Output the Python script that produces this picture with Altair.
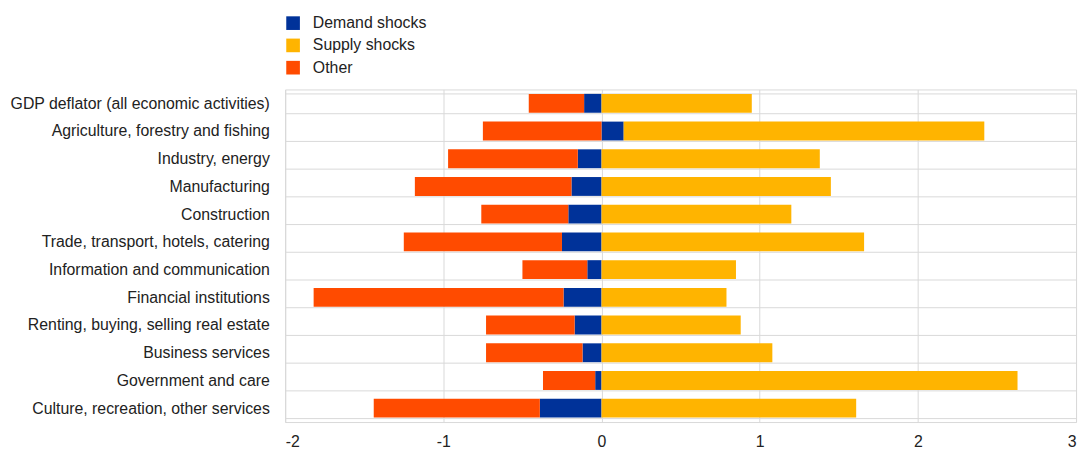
import altair as alt
import pandas as pd

categories = [
    "GDP deflator (all economic activities)",
    "Agriculture, forestry and fishing",
    "Industry, energy",
    "Manufacturing",
    "Construction",
    "Trade, transport, hotels, catering",
    "Information and communication",
    "Financial institutions",
    "Renting, buying, selling real estate",
    "Business services",
    "Government and care",
    "Culture, recreation, other services",
]
demand = [-0.11, 0.14, -0.15, -0.19, -0.21, -0.25, -0.09, -0.24, -0.17, -0.12, -0.04, -0.39]
supply = [0.95, 2.28, 1.38, 1.45, 1.20, 1.66, 0.85, 0.79, 0.88, 1.08, 2.63, 1.61]
other = [-0.35, -0.75, -0.82, -0.99, -0.55, -1.00, -0.41, -1.58, -0.56, -0.61, -0.33, -1.05]

series = ["Demand shocks", "Supply shocks", "Other"]
colors = ["#003299", "#ffb400", "#ff4b00"]
x_ticks = [-2, -1, 0, 1, 2, 3]

rows = []
for i, c in enumerate(categories):
    for k, (name, vals) in enumerate(zip(series, [demand, supply, other])):
        rows.append({"category": c, "series": name, "value": vals[i], "order": k})
df = pd.DataFrame(rows)

chart = (
    alt.Chart(df)
    .mark_bar()
    .encode(
        y=alt.Y(
            "category:N",
            sort=categories,
            title=None,
            scale=alt.Scale(paddingInner=0.32, paddingOuter=0.16),
            axis=alt.Axis(
                domain=False,
                ticks=False,
                grid=True,
                tickBand="extent",
                gridColor="#d9d9d9",
                gridWidth=1,
                labelFont="Liberation Sans",
                labelFontSize=16,
                labelColor="#222222",
                labelPadding=16,
                labelLimit=400,
            ),
        ),
        x=alt.X(
            "value:Q",
            title=None,
            stack="zero",
            scale=alt.Scale(domain=[-2, 3], nice=False),
            axis=alt.Axis(
                values=x_ticks,
                labelExpr="datum.value < 0 ? '-' + abs(datum.value) : '' + datum.value",
                domain=False,
                ticks=False,
                grid=True,
                gridColor="#d9d9d9",
                gridWidth=1,
                labelFont="Liberation Sans",
                labelFontSize=16,
                labelColor="#222222",
                labelPadding=12,
            ),
        ),
        color=alt.Color(
            "series:N",
            scale=alt.Scale(domain=series, range=colors),
            legend=alt.Legend(
                title=None,
                orient="none",
                legendX=0,
                legendY=-75,
                symbolType="square",
                symbolSize=190,
                symbolStrokeWidth=0,
                labelFont="Liberation Sans",
                labelFontSize=16,
                labelColor="#222222",
                labelOffset=12,
                rowPadding=6.5,
            ),
        ),
        order=alt.Order("order:Q"),
    )
    .properties(
        width=799,
        height=336,
        padding={"left": 1, "top": 5, "right": 5, "bottom": 3},
    )
    .configure_view(stroke="#d9d9d9", strokeWidth=1)
)

chart.save("out.html", embed_options={"renderer": "svg", "actions": False})
